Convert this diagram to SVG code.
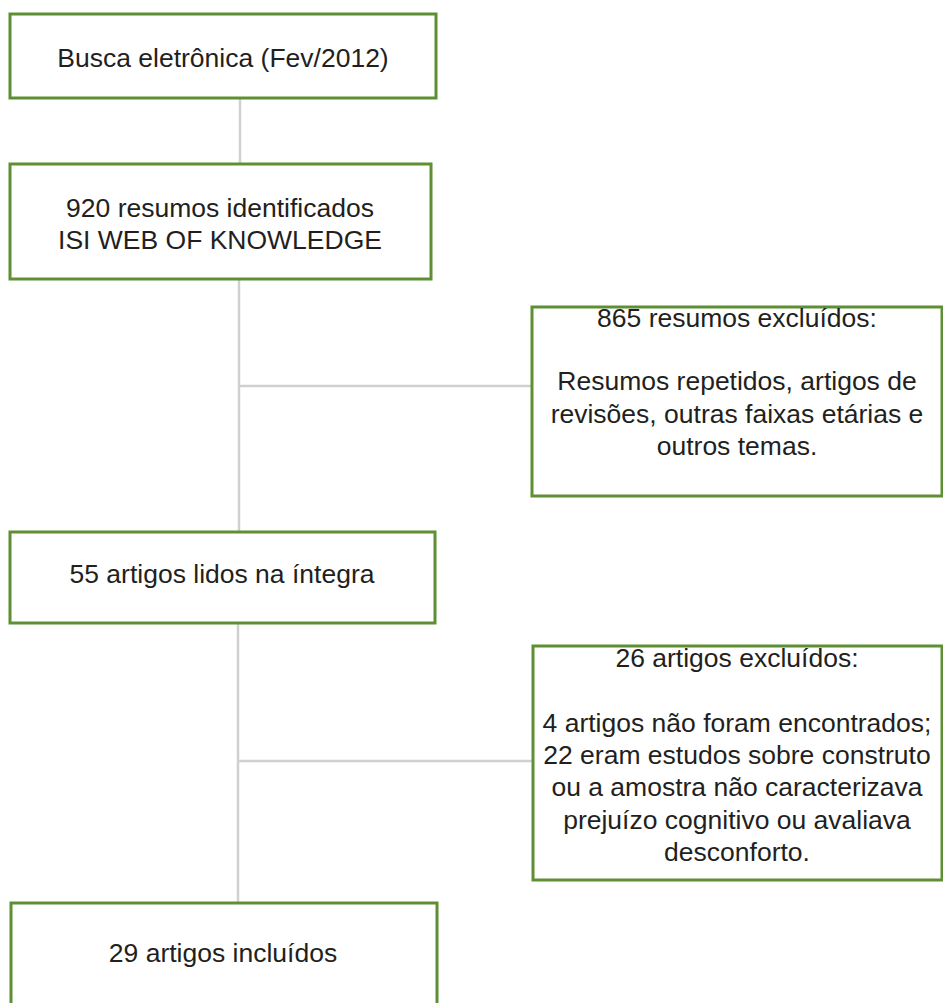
<svg xmlns="http://www.w3.org/2000/svg" width="943" height="1003" viewBox="0 0 943 1003">
<style>
.box{fill:#fff;stroke:#5e8f32;stroke-width:3}
.t{font-family:"Liberation Sans",Arial,sans-serif;font-size:26.5px;fill:#231f20;text-anchor:middle}
.c{stroke:#d0d0d0;stroke-width:2.5;fill:none}
</style>
<rect width="943" height="1003" fill="#fff"/>
<g id="connectors">
<line class="c" x1="240" y1="98" x2="240" y2="164"/>
<line class="c" x1="239" y1="279" x2="239" y2="532"/>
<line class="c" x1="239" y1="386" x2="532" y2="386"/>
<line class="c" x1="238" y1="623" x2="238" y2="903"/>
<line class="c" x1="238" y1="761" x2="533" y2="761"/>
</g>
<g id="n1">
<rect class="box" x="10" y="14" width="426" height="84"/>
<text class="t" x="223" y="67">Busca eletrônica (Fev/2012)</text>
</g>
<g id="n2">
<rect class="box" x="10" y="164" width="421" height="115"/>
<text class="t" x="220" y="217">920 resumos identificados</text>
<text class="t" x="220" y="249">ISI WEB OF KNOWLEDGE</text>
</g>
<g id="n3">
<rect class="box" x="532" y="307" width="410" height="189"/>
<text class="t" x="737" y="327">865 resumos excluídos:</text>
<text class="t" x="737" y="390">Resumos repetidos, artigos de</text>
<text class="t" x="737" y="423">revisões, outras faixas etárias e</text>
<text class="t" x="737" y="455">outros temas.</text>
</g>
<g id="n4">
<rect class="box" x="10" y="532" width="425" height="91"/>
<text class="t" x="222" y="583">55 artigos lidos na íntegra</text>
</g>
<g id="n5">
<rect class="box" x="533" y="646" width="409" height="234"/>
<text class="t" x="737" y="667">26 artigos excluídos:</text>
<text class="t" x="737" y="732">4 artigos não foram encontrados;</text>
<text class="t" x="737" y="764">22 eram estudos sobre construto</text>
<text class="t" x="737" y="796">ou a amostra não caracterizava</text>
<text class="t" x="737" y="829">prejuízo cognitivo ou avaliava</text>
<text class="t" x="737" y="861">desconforto.</text>
</g>
<g id="n6">
<rect class="box" x="11" y="903" width="426" height="130"/>
<text class="t" x="223" y="962">29 artigos incluídos</text>
</g>
</svg>
